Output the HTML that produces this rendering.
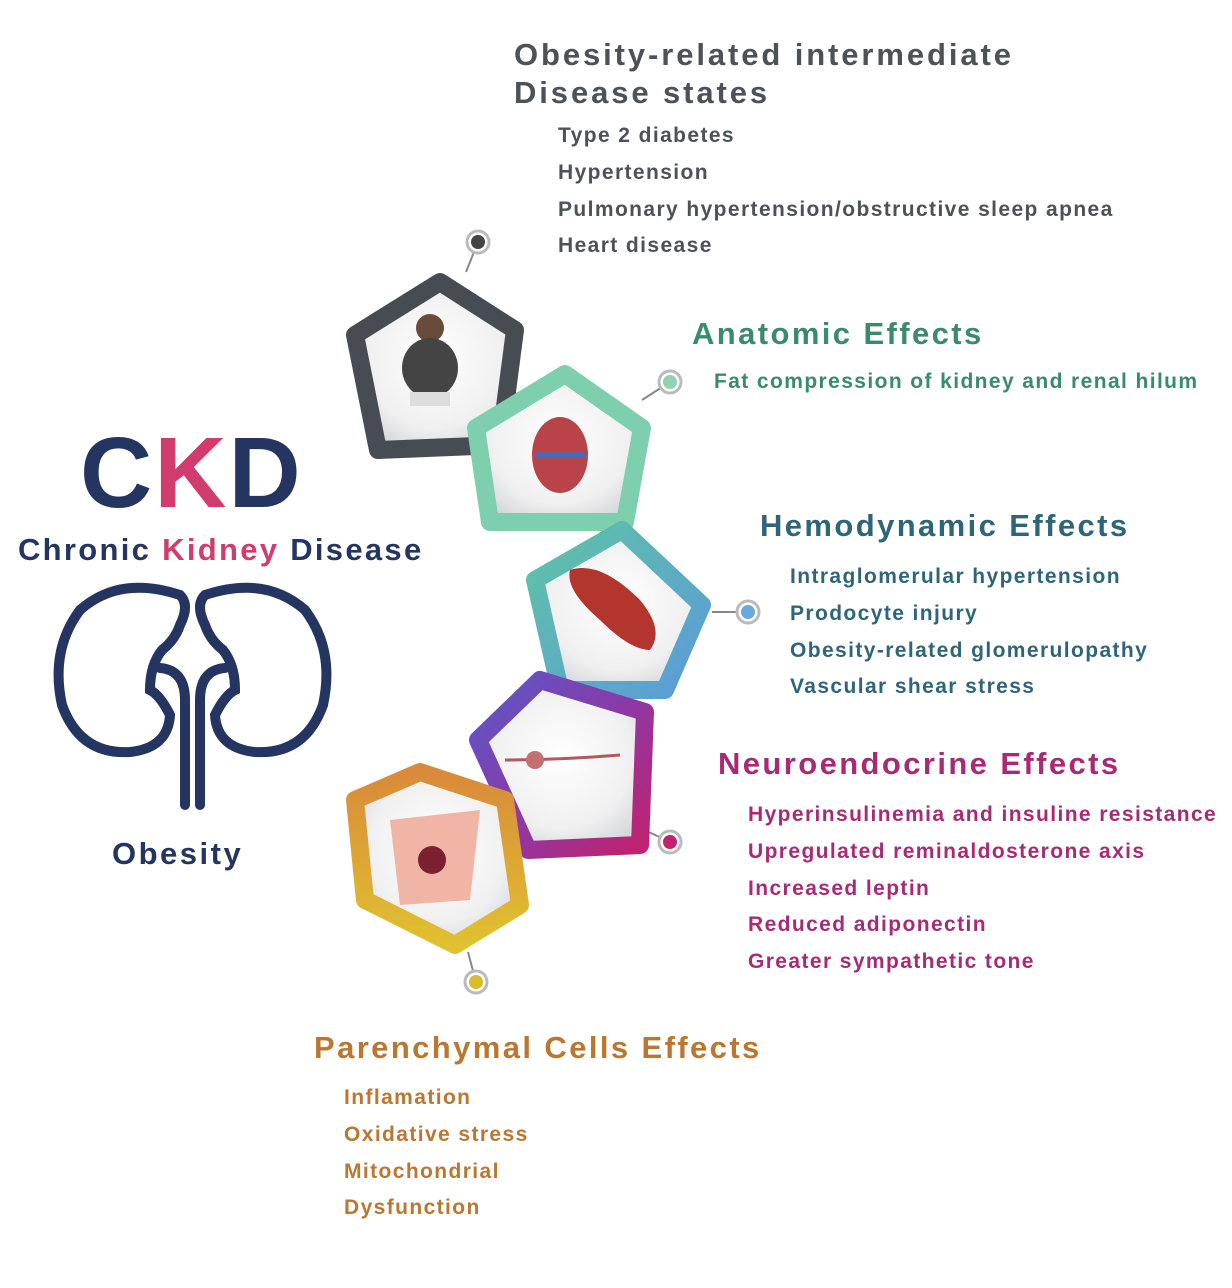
<!DOCTYPE html>
<html><head><meta charset="utf-8"><style>
html,body{margin:0;padding:0;background:#fff}
body{width:1232px;height:1288px;position:relative;overflow:hidden;font-family:"Liberation Sans",Arial,sans-serif;font-weight:bold}
.t{position:absolute;white-space:nowrap}
.h{font-size:31px;letter-spacing:2.4px}
.i{font-size:21px;line-height:36.8px;letter-spacing:1.4px}
</style></head><body>
<svg width="1232" height="1288" style="position:absolute;left:0;top:0">
<defs>
<radialGradient id="g" cx="50%" cy="45%" r="60%"><stop offset="0" stop-color="#ffffff"/><stop offset="0.7" stop-color="#f0f0f1"/><stop offset="1" stop-color="#d6d7da"/></radialGradient>
<linearGradient id="gb" x1="0" y1="0" x2="1" y2="1"><stop offset="0" stop-color="#5fc3a6"/><stop offset="1" stop-color="#5b9bd8"/></linearGradient>
<linearGradient id="gp" x1="0" y1="0" x2="1" y2="1"><stop offset="0" stop-color="#5a57c8"/><stop offset="0.5" stop-color="#8a3aa8"/><stop offset="1" stop-color="#c2216d"/></linearGradient>
<linearGradient id="gy" x1="0" y1="0" x2="0" y2="1"><stop offset="0" stop-color="#d98a3a"/><stop offset="1" stop-color="#e0c12f"/></linearGradient>
</defs>
<g stroke="#888" stroke-width="2">
<line x1="478" y1="242" x2="466" y2="272"/><line x1="670" y1="382" x2="642" y2="400"/>
<line x1="748" y1="612" x2="712" y2="612"/><line x1="670" y1="842" x2="640" y2="828"/>
<line x1="476" y1="982" x2="468" y2="952"/>
</g>
<g stroke-linejoin="round" stroke-width="18" fill="url(#g)">
<polygon points="440,282 515,330 500,445 378,450 355,335" stroke="#474c52"/>
<polygon points="565,374 642,428 625,522 490,522 476,428" stroke="#7ecfae"/>
<polygon points="622,530 702,605 665,690 560,690 535,580" stroke="url(#gb)"/>
<polygon points="540,680 645,712 640,845 528,850 478,740" stroke="url(#gp)"/>
<polygon points="420,772 505,800 520,905 455,945 365,900 355,800" stroke="url(#gy)"/>
</g>
<g>
<circle cx="430" cy="328" r="14" fill="#6a4a3a"/><ellipse cx="430" cy="368" rx="28" ry="30" fill="#444"/><rect x="410" y="392" width="40" height="14" fill="#ddd"/>
<ellipse cx="560" cy="455" rx="28" ry="38" fill="#b8444a"/><path d="M535 455h50" stroke="#3b6fc4" stroke-width="5"/>
<path d="M570 570 Q600 560 640 600 Q665 630 650 650 Q630 650 600 620 Q565 590 570 570Z" fill="#b3352e"/>
<path d="M505 760 Q560 760 620 755" stroke="#b05a5a" stroke-width="3" fill="none"/><circle cx="535" cy="760" r="9" fill="#c57070"/>
<path d="M390 820 L480 810 L470 900 L400 905Z" fill="#f0b5a5"/><circle cx="432" cy="860" r="14" fill="#7a2030"/>
</g>
<g fill="#fff" stroke-width="3">
<circle cx="478" cy="242" r="11" stroke="#bbb"/><circle cx="478" cy="242" r="7" fill="#444" stroke="none"/>
<circle cx="670" cy="382" r="11" stroke="#bbb"/><circle cx="670" cy="382" r="7" fill="#8fd3b4" stroke="none"/>
<circle cx="748" cy="612" r="11" stroke="#bbb"/><circle cx="748" cy="612" r="7" fill="#6aa8df" stroke="none"/>
<circle cx="670" cy="842" r="11" stroke="#bbb"/><circle cx="670" cy="842" r="7" fill="#c2216d" stroke="none"/>
<circle cx="476" cy="982" r="11" stroke="#bbb"/><circle cx="476" cy="982" r="7" fill="#d9bb2c" stroke="none"/>
</g>
<g fill="none" stroke="#253561" stroke-width="10" stroke-linecap="round">
<path d="M180 595 Q120 575 80 610 Q50 650 62 705 Q80 755 130 752 Q168 748 170 715 Q160 695 150 690 Q150 665 162 650 Q175 640 180 625 Q190 605 180 595Z"/>
<path d="M205 595 Q265 575 305 610 Q335 650 323 705 Q305 755 255 752 Q217 748 215 715 Q225 695 235 690 Q235 665 223 650 Q210 640 205 625 Q195 605 205 595Z"/>
<path d="M160 668 Q185 670 185 700 L185 805"/><path d="M225 668 Q200 670 200 700 L200 805"/>
</g>
</svg>
<div class="t" style="left:514px;top:36px;color:#4d5158;font-size:31px;line-height:38px;letter-spacing:2.9px">Obesity-related intermediate<br>Disease states</div>
<div class="t i" style="left:558px;top:118px;color:#4d5158">Type 2 diabetes<br>Hypertension<br>Pulmonary hypertension/obstructive sleep apnea<br>Heart disease</div>
<div class="t h" style="left:692px;top:316px;color:#3a8a6c">Anatomic Effects</div>
<div class="t i" style="left:714px;top:364px;color:#3a8a6c">Fat compression of kidney and renal hilum</div>
<div class="t h" style="left:760px;top:508px;color:#2d6678">Hemodynamic Effects</div>
<div class="t i" style="left:790px;top:559px;color:#2d6678">Intraglomerular hypertension<br>Prodocyte injury<br>Obesity-related glomerulopathy<br>Vascular shear stress</div>
<div class="t h" style="left:718px;top:746px;color:#a82a74">Neuroendocrine Effects</div>
<div class="t i" style="left:748px;top:797px;color:#a82a74">Hyperinsulinemia and insuline resistance<br>Upregulated reminaldosterone axis<br>Increased leptin<br>Reduced adiponectin<br>Greater sympathetic tone</div>
<div class="t h" style="left:314px;top:1030px;color:#bb7630">Parenchymal Cells Effects</div>
<div class="t i" style="left:344px;top:1080px;color:#bb7630">Inflamation<br>Oxidative stress<br>Mitochondrial<br>Dysfunction</div>
<div class="t" style="left:80px;top:418px;font-size:100px;line-height:110px;color:#253561;letter-spacing:2px">C<span style="color:#d23b6e">K</span>D</div>
<div class="t" style="left:18px;top:532px;font-size:31px;color:#253561;letter-spacing:2.3px">Chronic <span style="color:#d23b6e">Kidney</span> Disease</div>
<div class="t" style="left:112px;top:836px;font-size:31px;color:#253561;letter-spacing:2.5px">Obesity</div>
</body></html>
